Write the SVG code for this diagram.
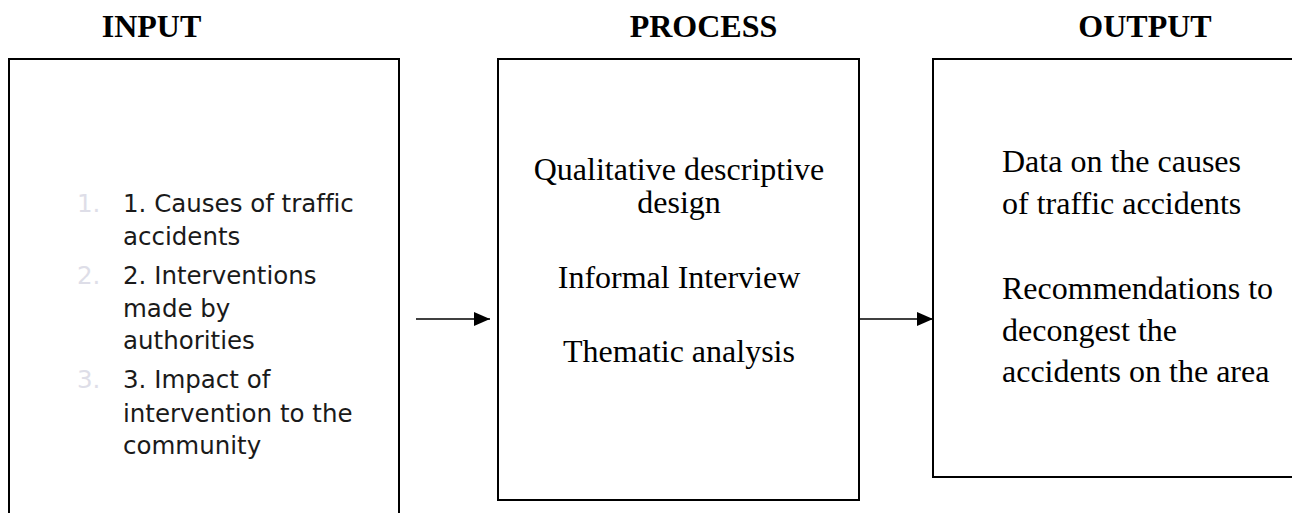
<svg xmlns="http://www.w3.org/2000/svg" width="1292" height="513" viewBox="0 0 1292 513">
<style>
.box{fill:#ffffff;stroke:#000000;stroke-width:2}
.title{font-family:"Liberation Serif","Times New Roman",serif;font-weight:bold;font-size:32px;fill:#000000;text-anchor:middle}
.serif{font-family:"Liberation Serif","Times New Roman",serif;font-size:32px;fill:#000000}
.sans{font-family:"DejaVu Sans","Liberation Sans",sans-serif;font-size:24.5px;fill:#1a1a1a;font-variant-ligatures:none}
.num{font-family:"DejaVu Sans","Liberation Sans",sans-serif;font-size:24.5px;fill:#dedee8}
.conn{stroke:#000000;stroke-width:1.6;fill:none}
</style>
<defs>
<marker id="arrow" markerUnits="userSpaceOnUse" markerWidth="16" markerHeight="14" refX="16" refY="7" orient="auto">
<path d="M0,0 L16,7 L0,14 z" fill="#000000"/>
</marker>
</defs>
<rect width="1292" height="513" fill="#ffffff"/>
<g id="input">
<text class="title" x="151.5" y="37">INPUT</text>
<rect class="box" x="9" y="59" width="390" height="470"/>
<text class="num" x="77" y="212">1.</text>
<text class="sans" x="123" y="212">1. Causes of traffic</text>
<text class="sans" x="123" y="245">accidents</text>
<text class="num" x="77" y="284">2.</text>
<text class="sans" x="123" y="284">2. Interventions</text>
<text class="sans" x="123" y="316.5">made by</text>
<text class="sans" x="123" y="348.5">authorities</text>
<text class="num" x="77" y="388">3.</text>
<text class="sans" x="123" y="388">3. Impact of</text>
<text class="sans" x="123" y="421.5">intervention to the</text>
<text class="sans" x="123" y="453.5">community</text>
</g>
<g id="process">
<text class="title" x="703.5" y="37">PROCESS</text>
<rect class="box" x="498" y="59" width="361" height="441"/>
<text class="serif" x="679" y="180" text-anchor="middle">Qualitative descriptive</text>
<text class="serif" x="679" y="213" text-anchor="middle">design</text>
<text class="serif" x="679" y="288" text-anchor="middle">Informal Interview</text>
<text class="serif" x="679" y="361.5" text-anchor="middle">Thematic analysis</text>
</g>
<g id="output">
<text class="title" x="1145" y="37">OUTPUT</text>
<rect class="box" x="933" y="59" width="400" height="418"/>
<text class="serif" x="1002" y="172">Data on the causes</text>
<text class="serif" x="1002" y="213.5">of traffic accidents</text>
<text class="serif" x="1002" y="298.5">Recommendations to</text>
<text class="serif" x="1002" y="340.5">decongest the</text>
<text class="serif" x="1002" y="381.5">accidents on the area</text>
</g>
<g id="connectors">
<line class="conn" x1="416" y1="319" x2="490" y2="319" marker-end="url(#arrow)"/>
<line class="conn" x1="859" y1="319" x2="933" y2="319" marker-end="url(#arrow)"/>
</g>
</svg>
